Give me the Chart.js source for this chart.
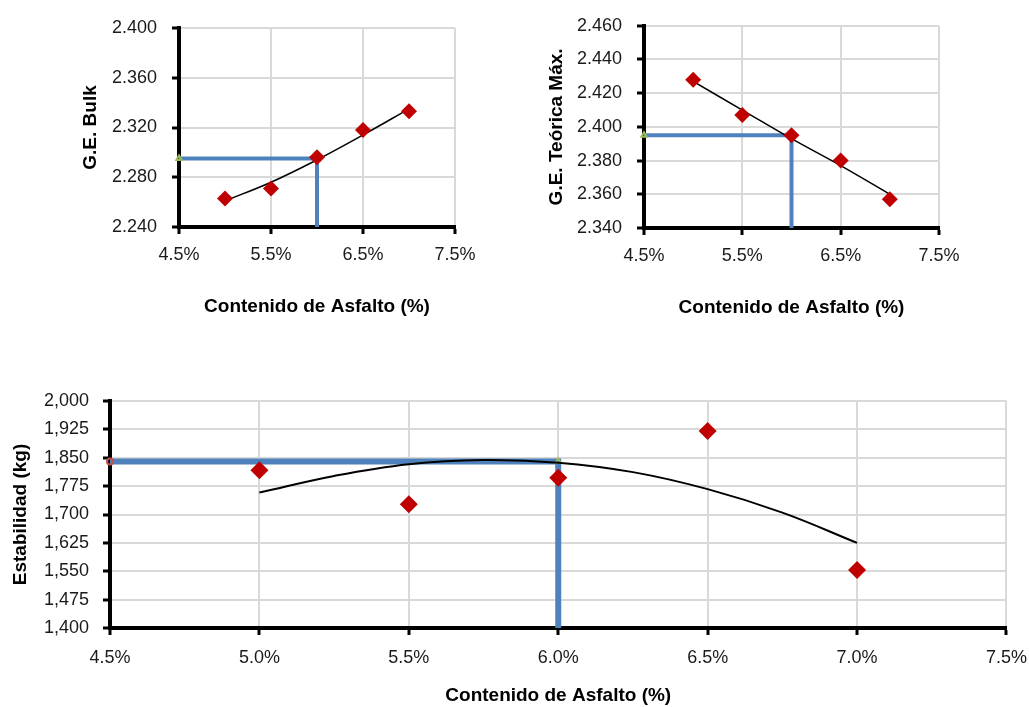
<!DOCTYPE html>
<html>
<head>
<meta charset="utf-8">
<script src="https://cdn.jsdelivr.net/npm/chart.js@4.4.0/dist/chart.umd.min.js"></script>
<style>
  body { margin: 0; background: #fff; }
  #bodyContainer { position: relative; width: 1029px; height: 707px; overflow: hidden; }
  canvas { position: absolute; }
</style>
</head>
<body>
<div id="bodyContainer">
  <canvas id="bulkChart" width="500" height="335" style="left:0px;top:0px"></canvas>
  <canvas id="teoricaChart" width="500" height="335" style="left:500px;top:0px"></canvas>
  <canvas id="estabChart" width="1039" height="338" style="left:0px;top:370px"></canvas>
</div>
<script>
// data
var asfalto = [5.0, 5.5, 6.0, 6.5, 7.0];
var geBulk = [2.263, 2.271, 2.296, 2.318, 2.333];
var geBulkTrend = [2.261, 2.276, 2.294, 2.314, 2.335];
var geTeorica = [2.428, 2.407, 2.395, 2.380, 2.357];
var geTeoricaTrend = [2.427, 2.410, 2.393, 2.377, 2.360];
var estabilidad = [1817, 1727, 1797, 1921, 1553];
var asfaltoCurva = [5.0, 5.25, 5.5, 5.75, 6.0, 6.25, 6.5, 6.75, 7.0];
var estabilidadTrend = [1758, 1802, 1833, 1844, 1837, 1812, 1767, 1705, 1625];

// optimum asphalt content and the values read at it
var asfaltoOptimo = 6.0;
var bulkOptimo = 2.295;
var teoricaOptimo = 2.395;
var estabOptimo = 1840;

// tick labels
var ticksPct = [4.5, 5.5, 6.5, 7.5];
var ticksPctFino = [4.5, 5.0, 5.5, 6.0, 6.5, 7.0, 7.5];
var ticksBulk = [2.24, 2.28, 2.32, 2.36, 2.40];
var ticksTeorica = [2.34, 2.36, 2.38, 2.40, 2.42, 2.44, 2.46];
var ticksEstab = [1400, 1475, 1550, 1625, 1700, 1775, 1850, 1925, 2000];

var tituloX = "Contenido de Asfalto (%)";
var tickFont = {family: '"Liberation Sans", Arial, sans-serif', size: 18};
var titleFont = {family: '"Liberation Sans", Arial, sans-serif', size: 19, weight: 'bold'};

function pts(xs, ys) {
  var out = [];
  for (var i = 0; i < xs.length; i++) out.push({x: xs[i], y: ys[i]});
  return out;
}

function grid() {
  return {color: '#d9d9d9', lineWidth: 2, tickColor: '#000', tickWidth: 3, tickLength: 7};
}

function makeChart(id, o) {
  var yMin = o.yTicks[0], yMax = o.yTicks[o.yTicks.length - 1];
  var xMin = o.xTicks[0], xMax = o.xTicks[o.xTicks.length - 1];
  return new Chart(document.getElementById(id), {
    type: 'scatter',
    data: {
      datasets: [
        { // measured points
          data: pts(asfalto, o.values),
          pointStyle: 'rectRot', pointRadius: o.diamond,
          backgroundColor: '#c00000', borderColor: '#c00000', borderWidth: 0,
          order: 0
        },
        { // trend line
          data: pts(o.trendX, o.trend),
          showLine: true, pointRadius: 0, tension: 0.4,
          borderColor: '#000', borderWidth: o.trendWidth, fill: false,
          order: 1
        },
        { // marker where the optimum is read
          data: o.markers,
          pointStyle: o.markerStyles, pointRadius: 3,
          backgroundColor: 'rgba(0,0,0,0)', borderColor: o.markerColors, borderWidth: 2,
          clip: false, order: 2
        },
        { // reading lines
          data: [{x: xMin, y: o.ref}, {x: asfaltoOptimo, y: o.ref}, {x: asfaltoOptimo, y: yMin}],
          showLine: true, pointRadius: 0, tension: 0,
          borderColor: '#4f81bd', borderWidth: o.refWidth, fill: false,
          order: 3
        }
      ]
    },
    options: {
      responsive: false,
      animation: false,
      devicePixelRatio: 1,
      layout: {padding: o.padding},
      plugins: {legend: {display: false}, tooltip: {enabled: false}},
      scales: {
        x: {
          type: 'linear', min: xMin, max: xMax,
          afterBuildTicks: function(s) { s.ticks = o.xTicks.map(function(v) { return {value: v}; }); },
          afterFit: function(s) { s.height = o.xHeight; },
          ticks: {font: tickFont, color: '#1a1a1a', padding: o.xTickPad, maxRotation: 0,
                  callback: function(v) { return v.toFixed(1) + '%'; }},
          grid: grid(),
          border: {color: '#000', width: 4},
          title: {display: true, text: tituloX, font: titleFont, color: '#000',
                  padding: {top: 0, bottom: o.xTitlePad}}
        },
        y: {
          type: 'linear', min: yMin, max: yMax,
          afterBuildTicks: function(s) { s.ticks = o.yTicks.map(function(v) { return {value: v}; }); },
          afterFit: function(s) { s.width = o.yWidth; },
          ticks: {font: tickFont, color: '#1a1a1a', padding: o.yTickPad, callback: o.yFormat},
          grid: grid(),
          border: {color: '#000', width: 4},
          title: {display: true, text: o.yTitle, font: titleFont, color: '#000',
                  padding: {top: o.yTitlePad, bottom: 0}}
        }
      }
    }
  });
}

function tres(v) { return v.toFixed(3); }
function miles(v) { return v.toLocaleString('en-US'); }

makeChart('bulkChart', {
  values: geBulk, trendX: asfalto, trend: geBulkTrend, ref: bulkOptimo,
  markers: [{x: 4.5, y: bulkOptimo}], markerStyles: ['triangle'], markerColors: ['#9bbb59'],
  xTicks: ticksPct, yTicks: ticksBulk, yFormat: tres, yTitle: 'G.E. Bulk',
  diamond: 8, trendWidth: 1.5, refWidth: 4,
  padding: {left: 0, top: 28, right: 45, bottom: 8},
  xHeight: 100, yWidth: 179, yTickPad: 15, yTitlePad: 79, xTitlePad: 9, xTickPad: 10
});

makeChart('teoricaChart', {
  values: geTeorica, trendX: asfalto, trend: geTeoricaTrend, ref: teoricaOptimo,
  markers: [{x: 4.5, y: teoricaOptimo}], markerStyles: ['triangle'], markerColors: ['#9bbb59'],
  xTicks: ticksPct, yTicks: ticksTeorica, yFormat: tres, yTitle: 'G.E. Teórica Máx.',
  diamond: 8, trendWidth: 1.5, refWidth: 4,
  padding: {left: 0, top: 22, right: 61, bottom: 8},
  xHeight: 99, yWidth: 144, yTickPad: 15, yTitlePad: 45, xTitlePad: 8, xTickPad: 10
});

makeChart('estabChart', {
  values: estabilidad, trendX: asfaltoCurva, trend: estabilidadTrend, ref: estabOptimo,
  markers: [{x: 4.5, y: estabOptimo}, {x: asfaltoOptimo, y: estabOptimo}],
  markerStyles: ['circle', 'triangle'], markerColors: ['#c0504d', '#9bbb59'],
  xTicks: ticksPctFino, yTicks: ticksEstab, yFormat: miles, yTitle: 'Estabilidad (kg)',
  diamond: 9, trendWidth: 2, refWidth: 6,
  padding: {left: 0, top: 31, right: 23, bottom: 0},
  xHeight: 80, yWidth: 110, yTickPad: 14, yTitlePad: 9, xTitlePad: 1, xTickPad: 12
});
</script>
</body>
</html>
